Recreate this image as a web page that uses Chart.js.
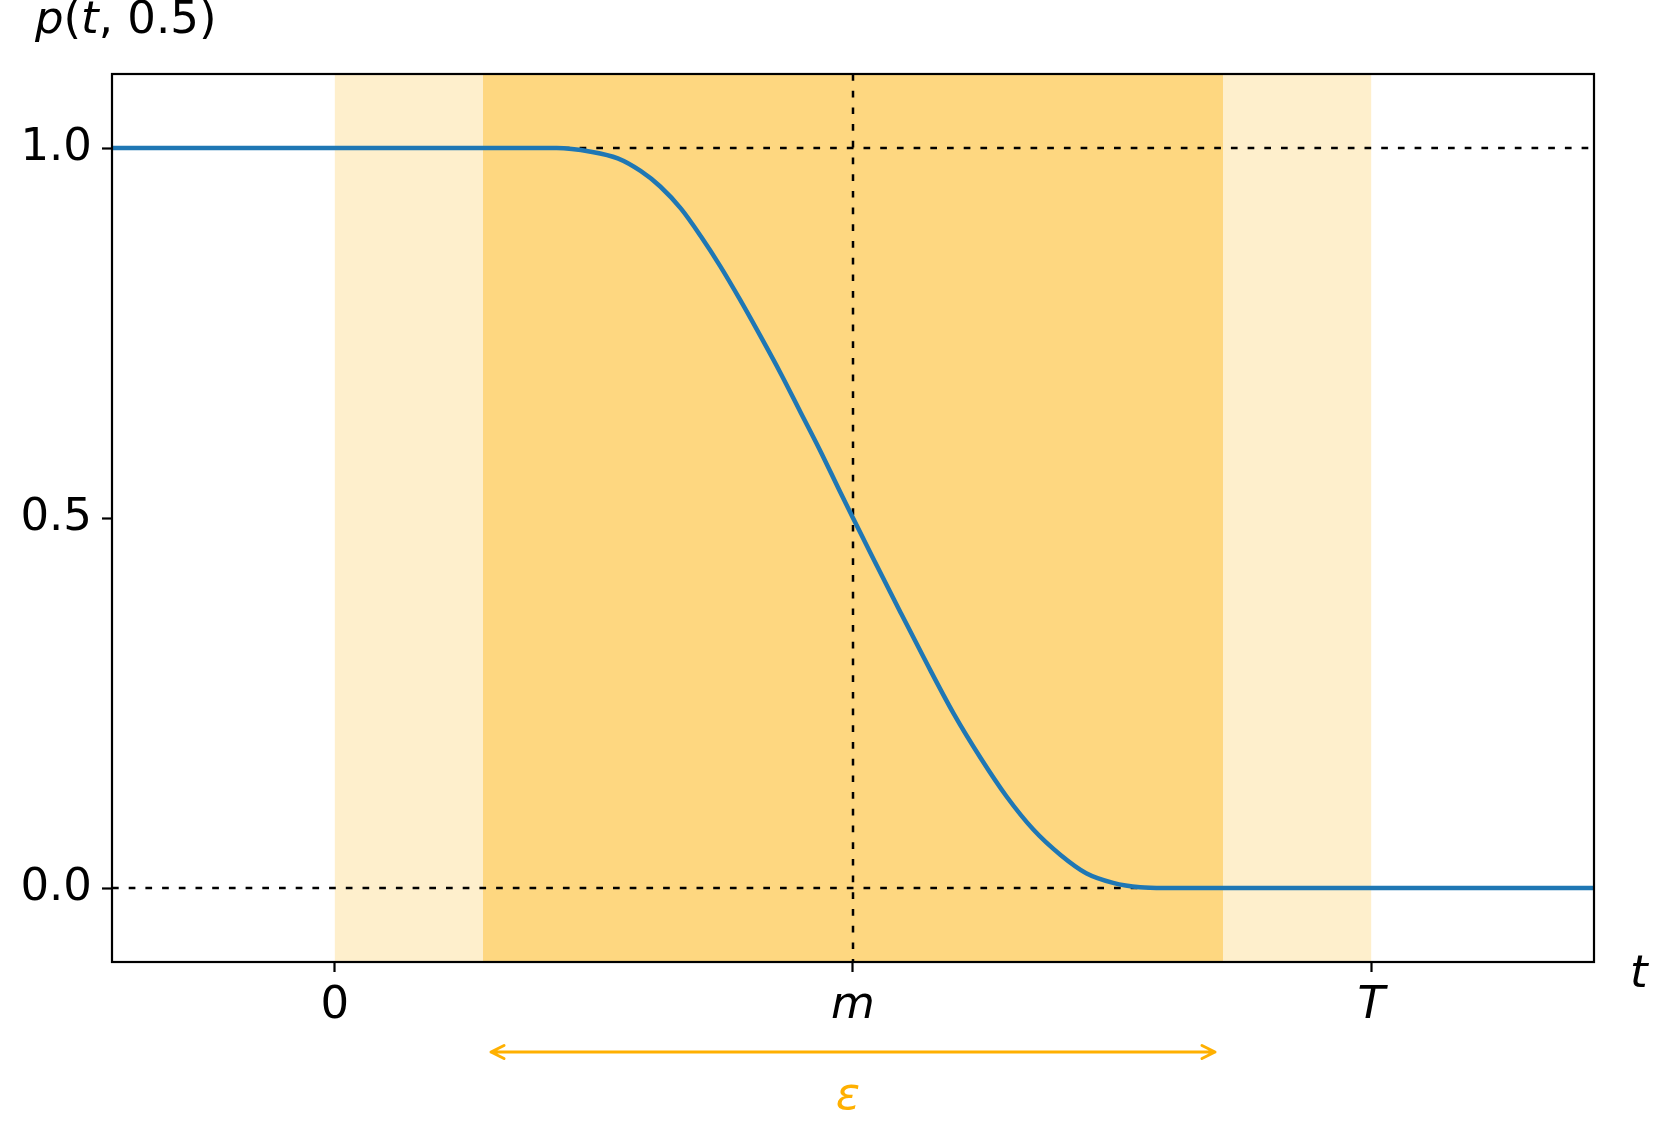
<!DOCTYPE html>
<html lang="en">
  <head>
    <meta charset="UTF-8" />
    <title>p(t, 0.5)</title>
    <script src="https://cdn.jsdelivr.net/npm/chart.js"></script>
    <style>
      body {
        margin: 0;
        background: #ffffff;
      }
      .chart-container {
        width: 1661px;
        height: 1143px;
      }
    </style>
  </head>
  <body>
    <div class="chart-container">
      <canvas id="curveChart"></canvas>
    </div>

    <script>
      // curve (t, p)
      const tValues = [
        -0.215, 0.0, 0.1, 0.214, 0.247, 0.273, 0.295, 0.314, 0.334, 0.353,
        0.372, 0.391, 0.411, 0.43, 0.449, 0.468, 0.488, 0.5, 0.52, 0.546,
        0.571, 0.597, 0.623, 0.648, 0.674, 0.7, 0.725, 0.751, 0.777, 0.8,
        0.9, 1.0, 1.215,
      ];
      const pValues = [
        1, 1, 1, 1, 0.995, 0.986, 0.969, 0.948, 0.918, 0.881, 0.84, 0.795,
        0.745, 0.696, 0.644, 0.592, 0.534, 0.5, 0.444, 0.372, 0.304, 0.236,
        0.176, 0.124, 0.079, 0.045, 0.02, 0.007, 0.001, 0, 0, 0, 0,
      ];

      const xTickValues = [0, 0.5, 1];
      const xTickLabels = ["0", "m", "T"];
      const yTickValues = [0, 0.5, 1];
      const yTickLabels = ["0.0", "0.5", "1.0"];

      // shaded windows: outer [0, T], inner epsilon window
      const bandStarts = [0, 0.143];
      const bandEnds = [1, 0.857];
      const hRefLines = [0, 1];
      const vRefLines = [0.5];

      const FONT = "DejaVu Sans";
      const bandColors = ["#feefcc", "#fed780"];
      const amber = "#ffb000";

      function drawMath(ctx, parts, x, baseline) {
        parts.forEach(([txt, italic]) => {
          ctx.font = (italic ? "italic " : "") + "45px '" + FONT + "'";
          ctx.fillText(txt, x, baseline);
          x += ctx.measureText(txt).width;
        });
      }

      const overlay = {
        id: "overlay",
        beforeDatasetsDraw(chart) {
          const { ctx, chartArea: a, scales } = chart;
          const x = scales.x;
          const y = scales.y;
          ctx.save();
          bandStarts.forEach((s, i) => {
            const x0 = x.getPixelForValue(s);
            const x1 = x.getPixelForValue(bandEnds[i]);
            ctx.fillStyle = bandColors[i];
            ctx.fillRect(x0, a.top, x1 - x0, a.bottom - a.top);
          });
          ctx.strokeStyle = "#000000";
          ctx.lineWidth = 2.5;
          ctx.setLineDash([6.7, 10]);
          hRefLines.forEach((v) => {
            const py = y.getPixelForValue(v);
            ctx.beginPath();
            ctx.moveTo(a.left, py);
            ctx.lineTo(a.right, py);
            ctx.stroke();
          });
          vRefLines.forEach((v) => {
            const px = x.getPixelForValue(v);
            ctx.beginPath();
            ctx.moveTo(px, a.top);
            ctx.lineTo(px, a.bottom);
            ctx.stroke();
          });
          ctx.restore();
        },
        afterDraw(chart) {
          const { ctx, chartArea: a, scales } = chart;
          const x = scales.x;
          ctx.save();
          // frame
          ctx.strokeStyle = "#000000";
          ctx.lineWidth = 2.2;
          ctx.strokeRect(a.left, a.top, a.right - a.left, a.bottom - a.top);

          // axis labels
          ctx.fillStyle = "#000000";
          ctx.textAlign = "left";
          ctx.textBaseline = "alphabetic";
          drawMath(
            ctx,
            [["p", true], ["(", false], ["t", true], [", ", false], ["0.5", false], [")", false]],
            35,
            33
          );
          drawMath(ctx, [["t", true]], a.right + 36, a.bottom + 25);

          // epsilon arrow under the inner window
          const shrink = 8;
          const ax0 = x.getPixelForValue(bandStarts[1]) + shrink;
          const ax1 = x.getPixelForValue(bandEnds[1]) - shrink;
          const ay = a.bottom + 90;
          ctx.strokeStyle = amber;
          ctx.lineWidth = 3;
          ctx.lineCap = "round";
          ctx.lineJoin = "round";
          ctx.beginPath();
          ctx.moveTo(ax0, ay);
          ctx.lineTo(ax1, ay);
          ctx.moveTo(ax0 + 13, ay - 6.5);
          ctx.lineTo(ax0, ay);
          ctx.lineTo(ax0 + 13, ay + 6.5);
          ctx.moveTo(ax1 - 13, ay - 6.5);
          ctx.lineTo(ax1, ay);
          ctx.lineTo(ax1 - 13, ay + 6.5);
          ctx.stroke();
          ctx.fillStyle = amber;
          ctx.textAlign = "center";
          ctx.font = "italic 45px '" + FONT + "'";
          ctx.fillText("ε", (ax0 + ax1) / 2 - 5, a.bottom + 147);
          ctx.restore();
        },
      };

      const chartCtx = document.getElementById("curveChart").getContext("2d");
      new Chart(chartCtx, {
        type: "scatter",
        data: {
          datasets: [
            {
              data: tValues.map((t, i) => ({ x: t, y: pValues[i] })),
              showLine: true,
              borderColor: "#1f77b4",
              borderWidth: 4.5,
              pointRadius: 0,
              cubicInterpolationMode: "monotone",
            },
          ],
        },
        options: {
          responsive: true,
          maintainAspectRatio: false,
          animation: false,
          layout: { padding: { left: 0, top: 74, right: 67, bottom: 0 } },
          plugins: {
            legend: { display: false },
            tooltip: { enabled: false },
          },
          scales: {
            x: {
              type: "linear",
              min: -0.215,
              max: 1.215,
              afterBuildTicks: (scale) => {
                scale.ticks = xTickValues.map((v) => ({ value: v }));
              },
              afterFit: (scale) => {
                scale.height = 181;
              },
              border: { display: false },
              grid: {
                drawOnChartArea: false,
                drawTicks: true,
                tickLength: 10,
                tickColor: "#000000",
                tickWidth: 2.2,
              },
              ticks: {
                padding: 7,
                color: "#000000",
                maxRotation: 0,
                autoSkip: false,
                font: (c) => ({
                  family: FONT,
                  size: 45,
                  style: c.index === 0 ? "normal" : "italic",
                }),
                callback: (v, i) => xTickLabels[i],
              },
            },
            y: {
              type: "linear",
              min: -0.1,
              max: 1.1,
              afterBuildTicks: (scale) => {
                scale.ticks = yTickValues.map((v) => ({ value: v }));
              },
              afterFit: (scale) => {
                scale.width = 112;
              },
              border: { display: false },
              grid: {
                drawOnChartArea: false,
                drawTicks: true,
                tickLength: 10,
                tickColor: "#000000",
                tickWidth: 2.2,
              },
              ticks: {
                padding: 10,
                color: "#000000",
                autoSkip: false,
                font: { family: FONT, size: 45 },
                callback: (v, i) => yTickLabels[i],
              },
            },
          },
        },
        plugins: [overlay],
      });
    </script>
  </body>
</html>
